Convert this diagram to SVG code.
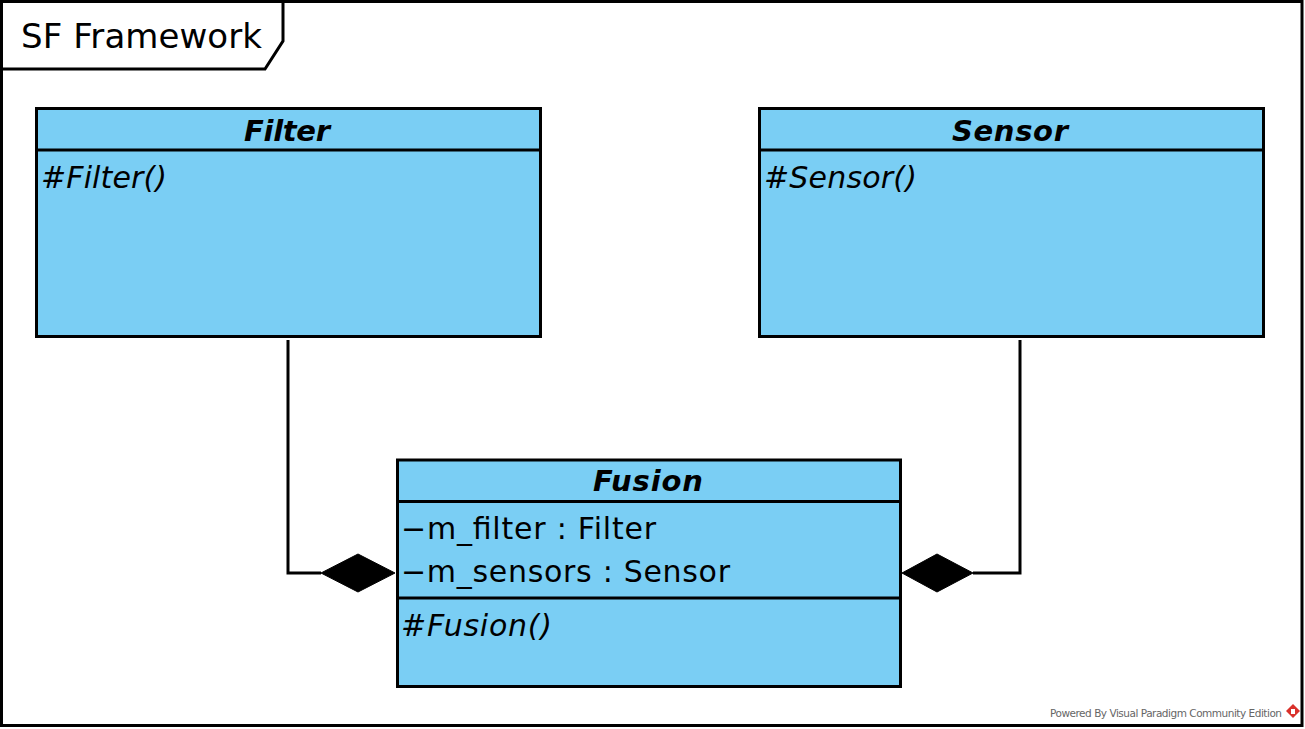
<svg xmlns="http://www.w3.org/2000/svg" width="1305" height="729" viewBox="0 0 1305 729">
<style>
.box{fill:#7ACEF4;stroke:#000;stroke-width:3}
.div{stroke:#000;stroke-width:3}
.title{font-family:"DejaVu Sans",sans-serif;font-weight:bold;font-style:italic;font-size:29px;text-anchor:middle}
.op{font-family:"DejaVu Sans",sans-serif;font-style:italic;font-size:30px}
.attr{font-family:"DejaVu Sans",sans-serif;font-size:30px}
.conn{fill:none;stroke:#000;stroke-width:3}
.dia{fill:#000;stroke:#000;stroke-width:1}
</style>
<rect x="0" y="0" width="1305" height="729" fill="#fff"/>
<g id="frame">
<rect x="1.5" y="1.5" width="1300.5" height="724" fill="none" stroke="#000" stroke-width="3"/>
<path d="M1.5 69 L265 69 L283 41 L283 1.5" fill="none" stroke="#000" stroke-width="3"/>
<text x="21" y="48" font-family="DejaVu Sans, sans-serif" font-size="34" textLength="241">SF Framework</text>
</g>
<g id="connectors">
<polyline class="conn" points="288,340 288,573 321,573"/>
<polygon class="dia" points="321,573 358,554 395,573 358,592"/>
<polyline class="conn" points="1020,340 1020,573 973,573"/>
<polygon class="dia" points="902,573 937,554 973,573 937,592"/>
</g>
<g id="Filter">
<rect class="box" x="36.5" y="108.5" width="504" height="228"/>
<line class="div" x1="36.5" y1="150" x2="540.5" y2="150"/>
<text class="title" x="287" y="141" textLength="86">Filter</text>
<text class="op" x="41" y="188" textLength="126">#Filter()</text>
</g>
<g id="Sensor">
<rect class="box" x="759.5" y="108.5" width="504" height="228"/>
<line class="div" x1="759.5" y1="150" x2="1263.5" y2="150"/>
<text class="title" x="1010" y="141" textLength="116">Sensor</text>
<text class="op" x="764" y="188" textLength="153">#Sensor()</text>
</g>
<g id="Fusion">
<rect class="box" x="397.5" y="460" width="503" height="226.5"/>
<line class="div" x1="397.5" y1="501.5" x2="900.5" y2="501.5"/>
<line class="div" x1="397.5" y1="598" x2="900.5" y2="598"/>
<text class="title" x="648" y="491" textLength="110">Fusion</text>
<text class="attr" x="401" y="539" textLength="255">−m_filter : Filter</text>
<text class="attr" x="401" y="582" textLength="329">−m_sensors : Sensor</text>
<text class="op" x="401" y="636" textLength="151">#Fusion()</text>
</g>
<g id="footer">
<text x="1050" y="717" font-family="DejaVu Sans, sans-serif" font-size="10.5" fill="#666" textLength="232">Powered By Visual Paradigm Community Edition</text>
<polygon points="1293,704 1300,711 1293,718 1286,711" fill="#d9312b"/>
<polygon points="1291,709 1295,709 1295,714 1291,714" fill="#fff"/>
</g>
</svg>
